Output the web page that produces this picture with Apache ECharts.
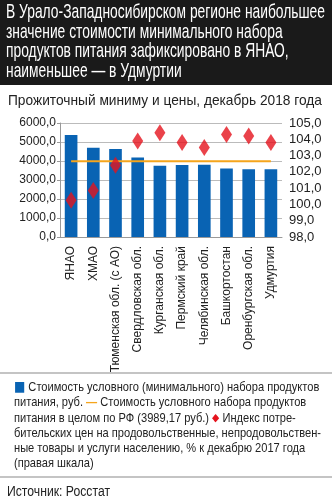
<!DOCTYPE html>
<html><head><meta charset="utf-8">
<script src="https://cdn.jsdelivr.net/npm/echarts@6/dist/echarts.min.js"></script>
<style>html,body{margin:0;padding:0;background:#fff}#c{width:332px;height:500px}</style>
</head><body><div id="c"></div>
<script>
const categories = ['ЯНАО','ХМАО','Тюменская обл. (с АО)','Свердловская обл.','Курганская обл.','Пермский край','Челябинская обл.','Башкортостан','Оренбургская обл.','Удмуртия'];
const costValues = [5370, 4700, 4630, 4190, 3750, 3790, 3800, 3610, 3560, 3560];
const rfValue = 3989.17;
const cpiValues = [100.25, 100.85, 102.4, 103.9, 104.4, 103.8, 103.5, 104.3, 104.2, 103.8];
const leftTicks = {min: 0, max: 6000, interval: 1000};
const rightTicks = {min: 98, max: 105, interval: 1};
const titleLines = ['В Урало-Западносибирском регионе наибольшее', 'значение стоимости минимального набора', 'продуктов питания зафиксировано в ЯНАО,', 'наименьшее — в Удмуртии'];
const subtitle = 'Прожиточный миниму и цены, декабрь 2018 года';
const legendLines = [
  '{sq|■} {t|Стоимость условного (минимального) набора продуктов}',
  '{t|питания, руб. }{ln|—}{t| Стоимость условного набора продуктов}',
  '{t|питания в целом по РФ (3989,17 руб.) }{dm|◆}{t| Индекс потре-}',
  '{t|бительских цен на продовольственные, непродовольствен-}',
  '{t|ные товары и услуги населению, % к декабрю 2017 года}',
  '{t|(правая шкала)}'
];
const sourceText = 'Источник: Росстат';

const FONT = '"Liberation Sans", Arial, sans-serif';
const rfLine = categories.map(() => rfValue);
const fmt = v => v.toFixed(1).replace('.', ',');

const ctx = document.createElement('canvas').getContext('2d');
function fitScale(text, font, target) {
  ctx.font = font;
  return target / ctx.measureText(text).width;
}

const titleFont = '21px ' + FONT;
const titleScale = fitScale(titleLines[0], titleFont, 319);
const subFont = '15px ' + FONT;
const subScale = fitScale(subtitle, subFont, 314);
const legFont = '13px ' + FONT;
const legScale = fitScale('бительских цен на продовольственные, непродовольствен-', legFont, 307);
const srcFont = '14px ' + FONT;
const srcScale = fitScale(sourceText, srcFont, 103);

const titleBaselines = [23, 42.5, 62, 81.5];
const graphics = [
  {type: 'rect', left: 0, top: 0, shape: {width: 332, height: 85}, style: {fill: '#1a1a1a'}}
];
titleLines.forEach((s, i) => graphics.push({
  type: 'text', x: 6, y: titleBaselines[i], scaleX: titleScale,
  style: {text: s, fill: '#fff', font: titleFont, verticalAlign: 'bottom'}
}));
graphics.push(
  {type: 'text', x: 8, y: 108, scaleX: subScale, style: {text: subtitle, fill: '#222', font: subFont, verticalAlign: 'bottom'}},
  {type: 'rect', left: 0, top: 372, shape: {width: 332, height: 2}, style: {fill: '#c4c4c4'}},
  {type: 'text', x: 14, y: 380, scaleX: legScale, style: {
    text: legendLines.join('\n'), font: legFont, lineHeight: 15.2, fill: '#222',
    rich: {
      t: {fill: '#222', font: legFont, lineHeight: 15.2},
      sq: {fill: '#0963b3', font: '14px "DejaVu Sans"', lineHeight: 15.2},
      ln: {fill: '#f5a51c', font: 'bold 13px ' + FONT, lineHeight: 15.2},
      dm: {fill: '#e5131d', font: '11px "DejaVu Sans"', lineHeight: 15.2}
    }
  }},
  {type: 'rect', left: 0, top: 476, shape: {width: 332, height: 2}, style: {fill: '#c4c4c4'}},
  {type: 'text', x: 7, y: 499, scaleX: srcScale, style: {text: sourceText, fill: '#222', font: srcFont, verticalAlign: 'bottom'}}
);

const chart = echarts.init(document.getElementById('c'));
chart.setOption({
  animation: false,
  backgroundColor: '#fff',
  grid: {left: 60, right: 50, top: 123, height: 114},
  xAxis: {
    type: 'category', data: categories,
    axisLine: {lineStyle: {color: '#999'}},
    axisTick: {show: false},
    axisLabel: {rotate: 90, interval: 0, color: '#222', fontFamily: FONT, fontSize: 12, margin: 9}
  },
  yAxis: [{
    type: 'value', min: leftTicks.min, max: leftTicks.max, interval: leftTicks.interval,
    axisLine: {show: true, lineStyle: {color: '#999'}},
    axisTick: {show: true, length: 3, lineStyle: {color: '#999'}},
    splitLine: {lineStyle: {color: '#bbb'}},
    axisLabel: {formatter: fmt, color: '#222', fontFamily: FONT, fontSize: 12, margin: 4}
  }, {
    type: 'value', min: rightTicks.min, max: rightTicks.max, interval: rightTicks.interval,
    axisLine: {show: false}, axisTick: {show: false}, splitLine: {show: false},
    axisLabel: {formatter: fmt, color: '#222', fontFamily: FONT, fontSize: 13, margin: 7}
  }],
  series: [{
    type: 'bar', data: costValues, barWidth: '57%', yAxisIndex: 0,
    itemStyle: {color: '#0963b3'}
  }, {
    type: 'line', data: rfLine, yAxisIndex: 0, showSymbol: false, symbol: 'none',
    lineStyle: {color: '#f5a51c', width: 2}, z: 3
  }, {
    type: 'scatter', data: cpiValues, yAxisIndex: 1, symbol: 'diamond', symbolSize: [11, 17],
    itemStyle: {color: '#e5131d'}, z: 4
  }],
  graphic: graphics
});
</script></body></html>
